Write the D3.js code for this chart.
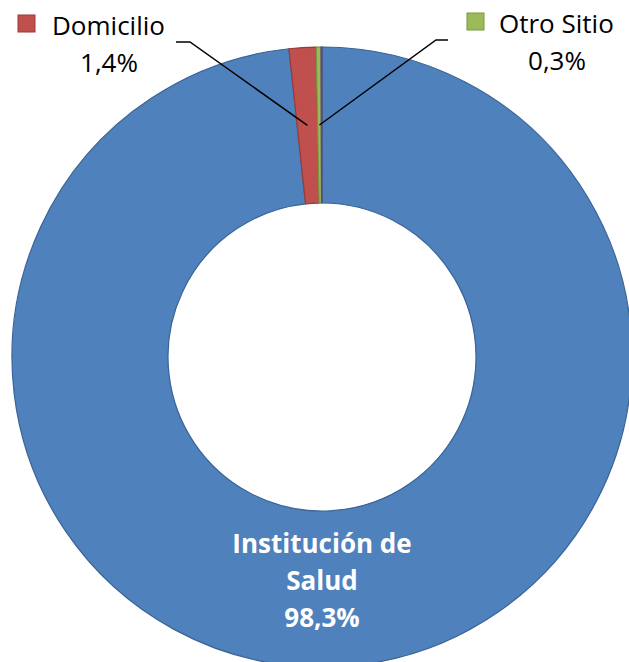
<!DOCTYPE html>
<html>
<head>
<meta charset="utf-8">
<script src="https://cdn.jsdelivr.net/npm/d3@7"></script>
<style>
  body { margin: 0; background: #fff; }
  svg { font-family: "Open Sans", "Noto Sans", sans-serif; }
</style>
</head>
<body>
<svg id="chart"></svg>
<script>
// data (order = clockwise from 12 o'clock)
const categories = ["Institución de Salud", "Domicilio", "Otro Sitio", "Sin dato"];
const values = [98.3, 1.4, 0.25, 0.05];
const valueLabels = ["98,3%", "1,4%", "0,3%", ""];
const colors = ["#4F81BD", "#C0504D", "#9BBB59", "#8064A2"];
const strokes = ["#3A6496", "#9C3A37", "#7A9640", "#5E4A7E"];

const W = 629, H = 662;
const cx = 322, cy = 357;
const outerR = 310, innerR = 154;

const svg = d3.select("#chart").attr("width", W).attr("height", H);

const data = categories.map((c, i) => ({name: c, value: values[i], label: valueLabels[i], i: i}));

const pie = d3.pie().sort(null).value(d => d.value);
const arc = d3.arc().innerRadius(innerR).outerRadius(outerR);
const midArc = d3.arc().innerRadius((innerR + outerR) / 2).outerRadius((innerR + outerR) / 2);

const g = svg.append("g").attr("transform", `translate(${cx},${cy})`);
const arcs = pie(data);

g.selectAll("path.slice")
  .data(arcs)
  .enter().append("path")
  .attr("class", "slice")
  .attr("d", arc)
  .attr("fill", d => colors[d.data.i])
  .attr("stroke", d => strokes[d.data.i])
  .attr("stroke-width", 1.2);

// big slice label, inside lower part of the ring
const big = svg.append("text")
  .attr("text-anchor", "middle")
  .attr("fill", "#fff")
  .attr("font-weight", "bold")
  .attr("font-size", 26);
["Institución de", "Salud", data[0].label].forEach((t, k) => {
  big.append("tspan").attr("x", cx).attr("y", 553 + k * 37).text(t);
});

// outside labels with legend keys and leader lines
const outside = [
  {i: 1, keyX: 18, textX: 52, pctX: 109, y: 35, lineStart: [176, 42], bend: [190, 42]},
  {i: 2, keyX: 467, textX: 499, pctX: 557, y: 33, lineStart: [448, 40], bend: [436, 40]}
];

outside.forEach(o => {
  const a = arcs[o.i];
  const c = midArc.centroid(a);
  svg.append("polyline")
    .attr("points", [o.lineStart, o.bend, [cx + c[0], cy + c[1]]].map(p => p.join(",")).join(" "))
    .attr("fill", "none")
    .attr("stroke", "#000")
    .attr("stroke-width", 1.5);

  svg.append("rect")
    .attr("x", o.keyX).attr("y", o.y - 20)
    .attr("width", 17).attr("height", 17)
    .attr("fill", colors[o.i])
    .attr("stroke", strokes[o.i])
    .attr("stroke-width", 1);

  svg.append("text")
    .attr("x", o.textX).attr("y", o.y)
    .attr("font-size", 26)
    .attr("fill", "#000")
    .text(categories[o.i]);

  svg.append("text")
    .attr("x", o.pctX).attr("y", o.y + 37)
    .attr("text-anchor", "middle")
    .attr("font-size", 26)
    .attr("fill", "#000")
    .text(valueLabels[o.i]);
});
</script>
</body>
</html>
